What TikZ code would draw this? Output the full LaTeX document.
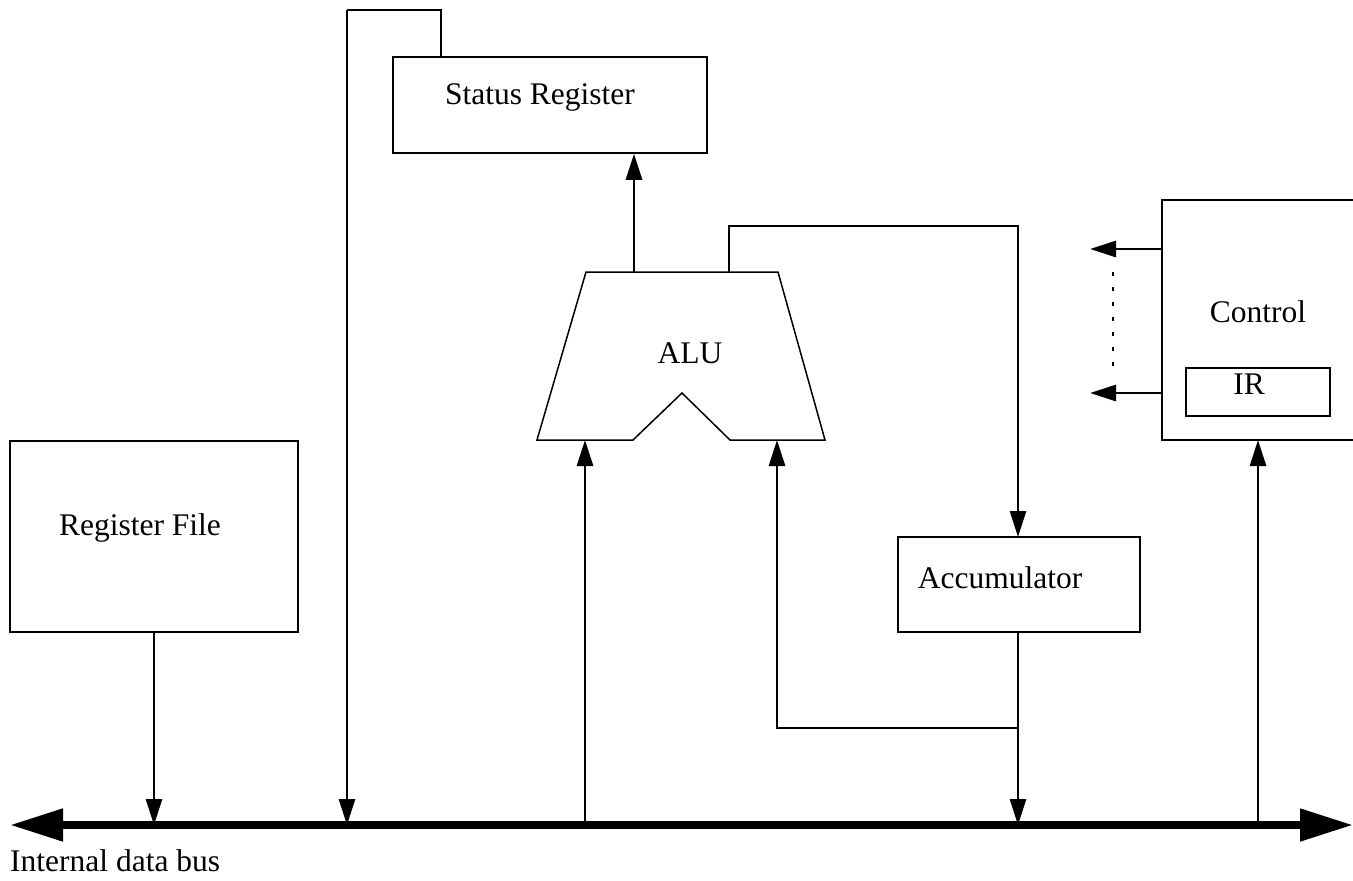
\documentclass[tikz,border=0pt]{standalone}
\usepackage{fontspec}
\setmainfont{Liberation Serif}
\usetikzlibrary{arrows.meta}
\tikzset{
  box/.style={draw, line width=1.5pt, inner sep=0pt},
  txt/.style={inner sep=0pt, font=\fontsize{31.5}{36}\selectfont},
  wire/.style={line width=2.8pt},
  arr/.style={wire, -{Triangle[length=26pt,width=16pt]}},
  bus/.style={line width=8pt, {Triangle[length=53pt,width=31pt]}-{Triangle[length=53pt,width=31pt]}},
}
\begin{document}
\begin{tikzpicture}[x=1pt,y=-1pt]
\useasboundingbox (0,0) rectangle (1353,881);
\clip (0,0) rectangle (1353,881);
% bus
\coordinate (busL) at (10,825);
\coordinate (busR) at (1353,825);
\draw[bus] (busL) -- (busR);
\node[txt, anchor=west] (buslbl) at (10,861) {Internal data bus};
% boxes
\node[box, minimum width=314pt, minimum height=96pt] (sr) at (550,105) {};
\node[txt] (srt) at (540,97) {Status Register};
\node[box, minimum width=288pt, minimum height=191pt] (rf) at (154,536.5) {};
\node[txt] (rft) at (140,528) {Register File};
\node[box, minimum width=242pt, minimum height=95pt] (acc) at (1019,584.5) {};
\node[txt] (acct) at (1000,578) {Accumulator};
\node[box, minimum width=240pt, minimum height=240pt] (ctl) at (1282,320) {};
\node[txt] (ctlt) at (1258,312) {Control};
\node[box, minimum width=144pt, minimum height=48pt] (ir) at (1258,392) {};
\node[txt] (irt) at (1249,384) {IR};
% ALU
\draw[line width=1.5pt] (586,272) -- (778,272) -- (825,440) -- (730,440) -- (682,393) -- (633,440) -- (537,440) -- cycle;
\node[txt] (alut) at (690,353) {ALU};
\coordinate (aluO1) at (634,272);
\coordinate (aluO2) at (729,272);
\coordinate (aluIL) at (585,440);
\coordinate (aluIR) at (777,440);
% connections
\draw[arr] (rf.south) -- (rf.south |- busL);
\draw[wire] (441,57) -- (441,10) -- (347,10);
\draw[arr] (347,10) -- (347,825);
\draw[arr] (aluO1) -- (aluO1 |- sr.south);
\draw[arr] (aluO2) -- (729,226) -- (1018,226) -- (1018,537);
\draw[arr] (1018,632) -- (1018,825);
\draw[arr] (1018,728) -- (777,728) -- (aluIR);
\draw[arr] (585,825) -- (aluIL);
\draw[arr] (1258,825) -- (1258,440);
\draw[arr] (1162,249) -- (1090,249);
\draw[arr] (1162,393) -- (1090,393);
\draw[line width=2.8pt, dash pattern=on 4pt off 11pt] (1113,272) -- (1113,372);
\end{tikzpicture}
\end{document}
